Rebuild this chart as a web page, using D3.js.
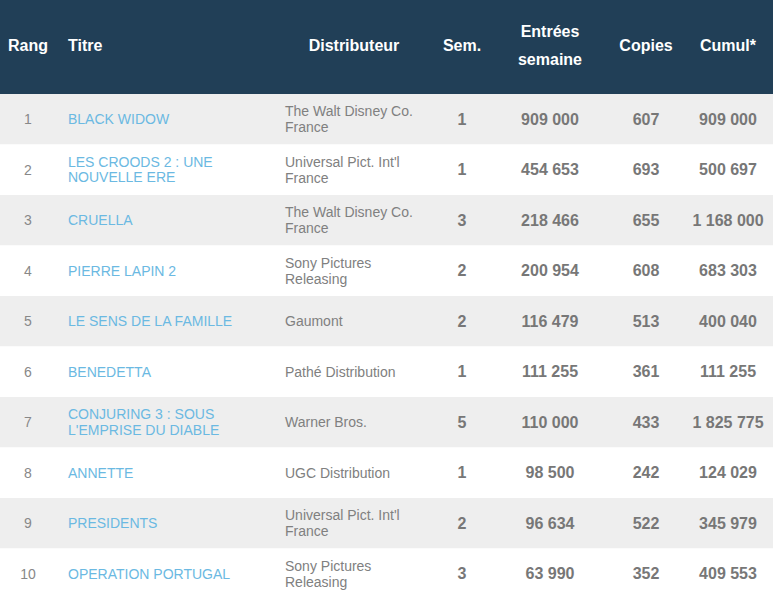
<!DOCTYPE html>
<html><head><meta charset="utf-8">
<script src="https://cdn.jsdelivr.net/npm/d3@7"></script>
<style>
html,body{margin:0;padding:0;background:#fff;}
svg{display:block;font-family:"Liberation Sans",Arial,sans-serif;}
</style></head>
<body><div id="chart"></div>
<script>
const headers = ["Rang","Titre","Distributeur","Sem.","Entrées semaine","Copies","Cumul*"];
const rangs = [1,2,3,4,5,6,7,8,9,10];
const titres = ["BLACK WIDOW","LES CROODS 2 : UNE NOUVELLE ERE","CRUELLA","PIERRE LAPIN 2","LE SENS DE LA FAMILLE","BENEDETTA","CONJURING 3 : SOUS L'EMPRISE DU DIABLE","ANNETTE","PRESIDENTS","OPERATION PORTUGAL"];
const distributeurs = ["The Walt Disney Co. France","Universal Pict. Int'l France","The Walt Disney Co. France","Sony Pictures Releasing","Gaumont","Pathé Distribution","Warner Bros.","UGC Distribution","Universal Pict. Int'l France","Sony Pictures Releasing"];
const semaines = [1,1,3,2,2,1,5,1,2,3];
const entrees = [909000,454653,218466,200954,116479,111255,110000,98500,96634,63990];
const copies = [607,693,655,608,513,361,433,242,522,352];
const cumul = [909000,500697,1168000,683303,400040,111255,1825775,124029,345979,409553];

const W = 773, H = 599, headH = 94;
const svg = d3.select("#chart").append("svg").attr("width", W).attr("height", H);
const fmt = d3.formatLocale({decimal:",", thousands:" ", grouping:[3], currency:["","€"]}).format(",d");

const y = d3.scaleBand().domain(rangs).range([headH, H]).padding(0);

// header
svg.append("rect").attr("x",0).attr("y",0).attr("width",W).attr("height",headH).attr("fill","#213f57");
const cols = [
  {x:28, anchor:"middle"},
  {x:68, anchor:"start"},
  {x:354, anchor:"middle"},
  {x:462, anchor:"middle"},
  {x:550, anchor:"middle"},
  {x:646, anchor:"middle"},
  {x:728, anchor:"middle"}
];
const hdr = svg.append("g");
headers.forEach((h,i)=>{
  const parts = h === "Entrées semaine" ? ["Entrées","semaine"] : [h];
  const t = hdr.append("text").attr("text-anchor", cols[i].anchor)
    .attr("font-size",16).attr("font-weight","bold").attr("fill","#fff");
  const lh = 28;
  parts.forEach((p,j)=>{
    t.append("tspan").attr("x", cols[i].x)
     .attr("y", headH/2 - 2 - (parts.length-1)*lh/2 + j*lh)
     .attr("dy","0.35em").text(p);
  });
});

// rows
const rows = svg.append("g").selectAll("g").data(rangs).join("g")
  .attr("transform", d=>`translate(0,${y(d)})`);
rows.append("rect").attr("x",0).attr("width",W).attr("height",y.bandwidth())
  .attr("fill",(d,i)=> i%2===0 ? "#eeeeee" : "#ffffff");

function wrapText(sel, text, x, cy, maxW, lh, attrs){
  const t = sel.append("text").attr("text-anchor","start");
  Object.entries(attrs).forEach(([k,v])=>t.attr(k,v));
  const words = text.split(" ");
  const lines = [];
  let cur = [];
  const probe = t.append("tspan").attr("x",x);
  words.forEach(w=>{
    const test = cur.concat([w]).join(" ");
    probe.text(test);
    if (probe.node().getComputedTextLength() > maxW && cur.length){
      lines.push(cur.join(" ")); cur=[w];
    } else cur.push(w);
  });
  lines.push(cur.join(" "));
  probe.remove();
  lines.forEach((l,j)=>{
    t.append("tspan").attr("x",x).attr("y", cy - (lines.length-1)*lh/2 + j*lh).attr("dy","0.35em").text(l);
  });
}

const bh = y.bandwidth(), cy = bh/2;
rows.each(function(d,i){
  const g = d3.select(this);
  g.append("text").attr("x",cols[0].x).attr("y",cy).attr("dy","0.35em").attr("text-anchor","middle")
    .attr("font-size",14).attr("fill","#888").text(rangs[i]);
  wrapText(g, titres[i], 68, cy, 200, 15.5, {"font-size":14, fill:"#6bb9e2"});
  wrapText(g, distributeurs[i], 285, cy, 140, 16, {"font-size":14, fill:"#808080"});
  const nums = [semaines[i], fmt(entrees[i]), copies[i], fmt(cumul[i])];
  nums.forEach((v,k)=>{
    g.append("text").attr("x",cols[3+k].x).attr("y",cy).attr("dy","0.35em").attr("text-anchor","middle")
      .attr("font-size",16).attr("font-weight","bold").attr("fill","#777").text(v);
  });
});
</script></body></html>
